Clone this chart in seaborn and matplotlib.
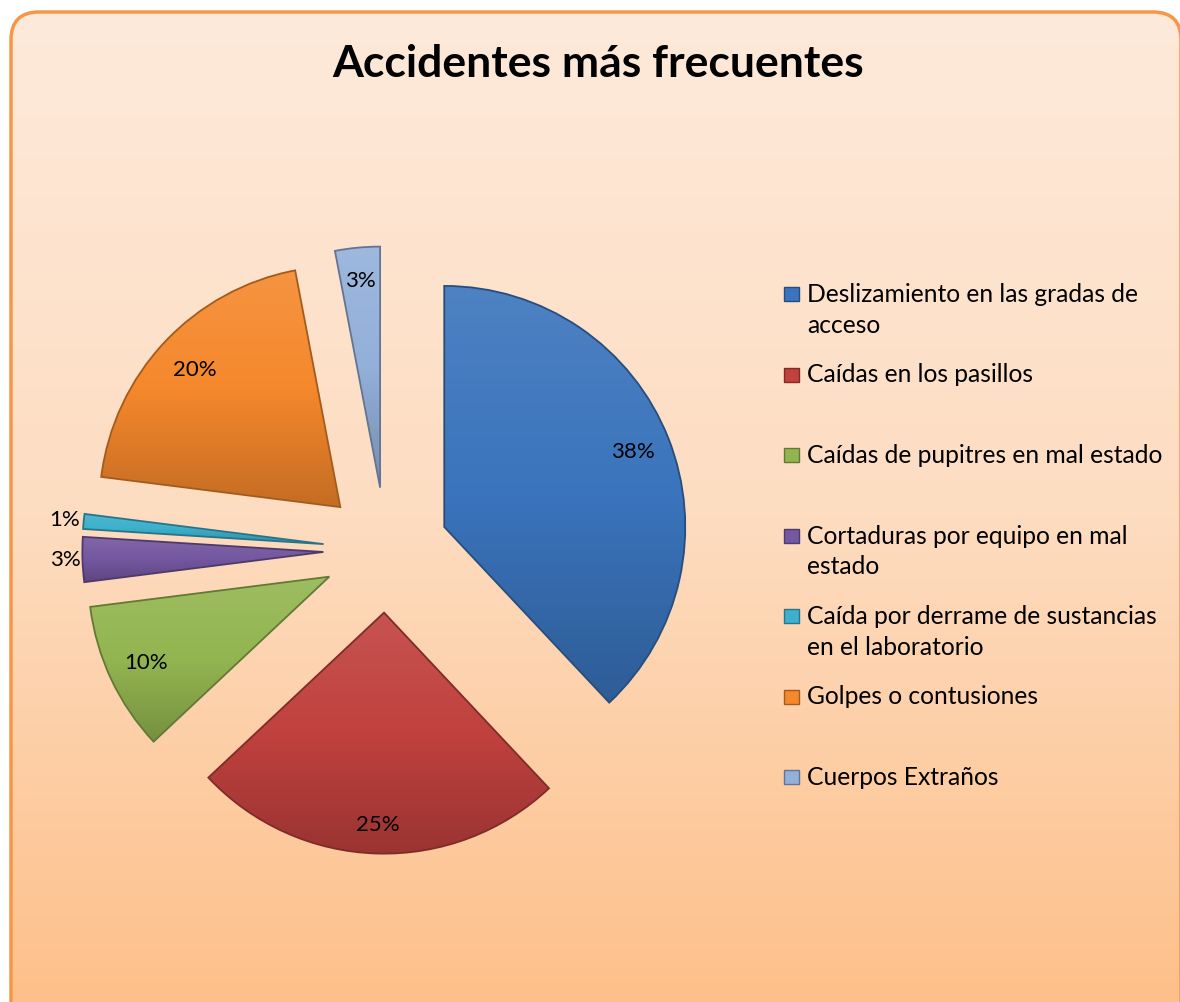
import numpy as np
import matplotlib.pyplot as plt
import matplotlib.colors as mcolors
from matplotlib.patches import FancyBboxPatch, Rectangle
import seaborn as sns

title = "Accidentes más frecuentes"
categories = [
    "Deslizamiento en las gradas de acceso",
    "Caídas en los pasillos",
    "Caídas de pupitres en mal estado",
    "Cortaduras por equipo en mal estado",
    "Caída por derrame de sustancias en el laboratorio",
    "Golpes o contusiones",
    "Cuerpos Extraños",
]
# how the legend wraps each label
legend_lines = [
    ["Deslizamiento en las gradas de", "acceso"],
    ["Caídas en los pasillos"],
    ["Caídas de pupitres en mal estado"],
    ["Cortaduras por equipo en mal", "estado"],
    ["Caída por derrame de sustancias", "en el laboratorio"],
    ["Golpes o contusiones"],
    ["Cuerpos Extraños"],
]
percentages = [38, 25, 10, 3, 1, 20, 3]
colors = ["#3A74BC", "#C0413E", "#93B550", "#7457A0", "#3CB0CC", "#F5882C", "#93B0DA"]
label_dist = [1.10, 1.14, 1.10, 1.33, 1.34, 1.09, 1.12]

sns.set_style("white")
plt.rcParams["font.family"] = ["Lato", "DejaVu Sans"]

W, H = 1180, 1002
fig = plt.figure(figsize=(W / 100, H / 100), dpi=100)

# background panel with vertical gradient and rounded orange border
bg = fig.add_axes([0, 0, 1, 1])
bg.axis("off")
bg.set_xlim(0, W)
bg.set_ylim(H, 0)
frame = FancyBboxPatch((11, 12), 1170, 1028,
                       boxstyle="round,pad=0,rounding_size=28",
                       facecolor="none", edgecolor="#F79646", linewidth=2.5, zorder=3)
bg.add_patch(frame)
bg_cmap = mcolors.LinearSegmentedColormap.from_list("bg", ["#FDEADB", "#FDDDC2", "#FDC08A"])
im = bg.imshow(np.linspace(0, 1, 256)[:, None], extent=(0, W, H, 0), cmap=bg_cmap,
               aspect="auto", zorder=1)
im.set_clip_path(frame)
bg.set_xlim(0, W)
bg.set_ylim(H, 0)

fig.text(598 / W, 1 - 77 / H, title, ha="center", va="baseline",
         fontsize=32, fontweight="bold", color="black")

# pie
cx, cy, r, L = 386, 550, 241, 1.6
ax = fig.add_axes([(cx - L * r) / W, (H - cy - L * r) / H, 2 * L * r / W, 2 * L * r / H])
wedges, _ = ax.pie(percentages, explode=[0.26] * len(percentages), startangle=90,
                   counterclock=False, colors=colors, wedgeprops=dict(linewidth=1.3))
ax.patch.set_alpha(0)

for w, c in zip(wedges, colors):
    light = sns.blend_palette([c, "white"], 11)[1]
    dark = sns.blend_palette([c, "black"], 11)[2]
    cmap = mcolors.LinearSegmentedColormap.from_list("w", [dark, c, light])
    x0, y0, x1, y1 = w.get_path().get_extents().extents
    img = ax.imshow(np.linspace(0, 1, 100)[:, None], extent=(x0, x1, y0, y1), origin="lower",
                    cmap=cmap, aspect="auto", zorder=2)
    img.set_clip_path(w)
    w.set_facecolor("none")
    w.set_edgecolor(sns.blend_palette([c, "black"], 4)[1])
    w.set_zorder(3)

for w, p, d in zip(wedges, percentages, label_dist):
    ang = np.deg2rad((w.theta1 + w.theta2) / 2)
    ax.text(d * np.cos(ang), d * np.sin(ang), f"{p}%", ha="center", va="center",
            fontsize=16, color="black", zorder=4)

ax.set_xlim(-L, L)
ax.set_ylim(-L, L)
ax.axis("off")

# legend, drawn entry by entry like the original layout
for i, (lines, c) in enumerate(zip(legend_lines, colors)):
    base = 302 + i * 80.5
    bg.add_patch(Rectangle((784, base - 15), 15, 14, facecolor=c,
                           edgecolor=sns.blend_palette([c, "black"], 4)[1], linewidth=1, zorder=4))
    for j, line in enumerate(lines):
        bg.text(807, base + j * 31, line, ha="left", va="baseline", fontsize=17.7,
                color="black", zorder=4)

fig.savefig("out.png", dpi=100)
